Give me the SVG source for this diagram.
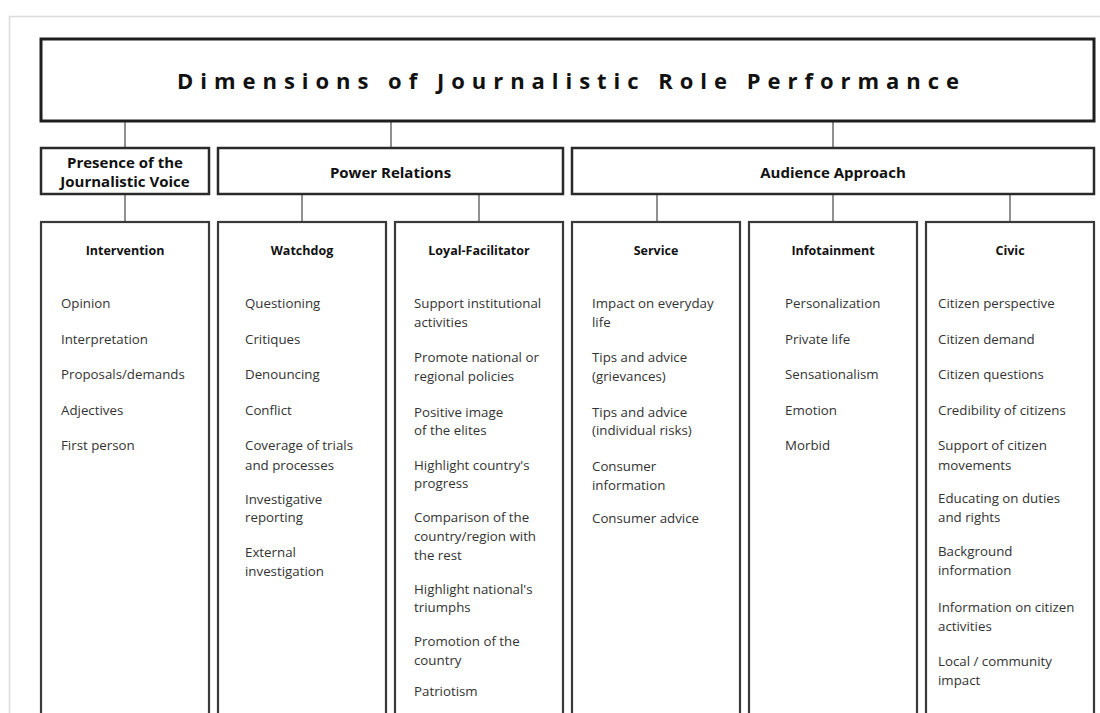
<svg xmlns="http://www.w3.org/2000/svg" width="1100" height="713" viewBox="0 0 1100 713">
<style>
.frame{fill:none;stroke:#dcdcdc;stroke-width:1.5}
.title-box{fill:#fff;stroke:#1e1e1e;stroke-width:3}
.cat-box{fill:#fff;stroke:#2a2a2a;stroke-width:2.5}
.col-box{fill:#fff;stroke:#3a3a3a;stroke-width:2.2}
.conn line{stroke:#555;stroke-width:1.3}
.title{font-family:"Open Sans",sans-serif;font-weight:bold;font-size:22px;fill:#111}
.cat{font-family:"Open Sans",sans-serif;font-weight:bold;font-size:15px;fill:#111;text-anchor:middle}
.head{font-family:"Open Sans",sans-serif;font-weight:bold;font-size:12.5px;fill:#111;text-anchor:middle}
.item{font-family:"Open Sans",sans-serif;font-size:13.3px;fill:#333}
</style>
<rect width="1100" height="713" fill="#fff"/>
<path class="frame" d="M9.5,713 V16.5 H1100"/>

<g id="connectors" class="conn">
<line x1="125" y1="121" x2="125" y2="148"/>
<line x1="391" y1="121" x2="391" y2="148"/>
<line x1="833" y1="121" x2="833" y2="148"/>
<line x1="125" y1="194" x2="125" y2="222"/>
<line x1="302" y1="194" x2="302" y2="222"/>
<line x1="479" y1="194" x2="479" y2="222"/>
<line x1="657" y1="194" x2="657" y2="222"/>
<line x1="833" y1="194" x2="833" y2="222"/>
<line x1="1010" y1="194" x2="1010" y2="222"/>
</g>

<g id="title">
<rect class="title-box" x="41" y="39" width="1053" height="82"/>
<text class="title" x="177" y="89" textLength="782" lengthAdjust="spacing">Dimensions of Journalistic Role Performance</text>
</g>

<g id="presence">
<rect class="cat-box" x="41" y="148" width="168" height="46"/>
<text class="cat" x="125" y="168">Presence of the</text>
<text class="cat" x="125" y="187">Journalistic Voice</text>
</g>
<g id="power">
<rect class="cat-box" x="218" y="148" width="345" height="46"/>
<text class="cat" x="390.5" y="177.5">Power Relations</text>
</g>
<g id="audience">
<rect class="cat-box" x="572" y="148" width="522" height="46"/>
<text class="cat" x="833" y="177.5">Audience Approach</text>
</g>

<g id="intervention">
<rect class="col-box" x="41" y="222" width="168" height="500"/>
<text class="head" x="125" y="254.5">Intervention</text>
<text class="item" x="61" y="308">Opinion</text>
<text class="item" x="61" y="344">Interpretation</text>
<text class="item" x="61" y="378.5">Proposals/demands</text>
<text class="item" x="61" y="414.5">Adjectives</text>
<text class="item" x="61" y="450">First person</text>
</g>

<g id="watchdog">
<rect class="col-box" x="218" y="222" width="168" height="500"/>
<text class="head" x="302" y="254.5">Watchdog</text>
<text class="item" x="245" y="308">Questioning</text>
<text class="item" x="245" y="344">Critiques</text>
<text class="item" x="245" y="378.5">Denouncing</text>
<text class="item" x="245" y="414.5">Conflict</text>
<text class="item" x="245" y="450">Coverage of trials</text>
<text class="item" x="245" y="469.5">and processes</text>
<text class="item" x="245" y="503.5">Investigative</text>
<text class="item" x="245" y="522">reporting</text>
<text class="item" x="245" y="557">External</text>
<text class="item" x="245" y="576">investigation</text>
</g>

<g id="loyal-facilitator">
<rect class="col-box" x="395" y="222" width="168" height="500"/>
<text class="head" x="479" y="254.5">Loyal-Facilitator</text>
<text class="item" x="414" y="308">Support institutional</text>
<text class="item" x="414" y="327">activities</text>
<text class="item" x="414" y="362">Promote national or</text>
<text class="item" x="414" y="381">regional policies</text>
<text class="item" x="414" y="416.5">Positive image</text>
<text class="item" x="414" y="435">of the elites</text>
<text class="item" x="414" y="469.5">Highlight country's</text>
<text class="item" x="414" y="488">progress</text>
<text class="item" x="414" y="521.5">Comparison of the</text>
<text class="item" x="414" y="540.5">country/region with</text>
<text class="item" x="414" y="559.5">the rest</text>
<text class="item" x="414" y="593.5">Highlight national's</text>
<text class="item" x="414" y="612">triumphs</text>
<text class="item" x="414" y="646">Promotion of the</text>
<text class="item" x="414" y="665">country</text>
<text class="item" x="414" y="696">Patriotism</text>
</g>

<g id="service">
<rect class="col-box" x="572" y="222" width="168" height="500"/>
<text class="head" x="656" y="254.5">Service</text>
<text class="item" x="592" y="308">Impact on everyday</text>
<text class="item" x="592" y="327">life</text>
<text class="item" x="592" y="362">Tips and advice</text>
<text class="item" x="592" y="381">(grievances)</text>
<text class="item" x="592" y="416.5">Tips and advice</text>
<text class="item" x="592" y="435">(individual risks)</text>
<text class="item" x="592" y="471">Consumer</text>
<text class="item" x="592" y="490">information</text>
<text class="item" x="592" y="522.5">Consumer advice</text>
</g>

<g id="infotainment">
<rect class="col-box" x="749" y="222" width="168" height="500"/>
<text class="head" x="833" y="254.5">Infotainment</text>
<text class="item" x="785" y="308">Personalization</text>
<text class="item" x="785" y="344">Private life</text>
<text class="item" x="785" y="378.5">Sensationalism</text>
<text class="item" x="785" y="414.5">Emotion</text>
<text class="item" x="785" y="450">Morbid</text>
</g>

<g id="civic">
<rect class="col-box" x="926" y="222" width="168" height="500"/>
<text class="head" x="1010" y="254.5">Civic</text>
<text class="item" x="938" y="308">Citizen perspective</text>
<text class="item" x="938" y="344">Citizen demand</text>
<text class="item" x="938" y="378.5">Citizen questions</text>
<text class="item" x="938" y="414.5">Credibility of citizens</text>
<text class="item" x="938" y="450">Support of citizen</text>
<text class="item" x="938" y="469.5">movements</text>
<text class="item" x="938" y="502.5">Educating on duties</text>
<text class="item" x="938" y="521.5">and rights</text>
<text class="item" x="938" y="556">Background</text>
<text class="item" x="938" y="575">information</text>
<text class="item" x="938" y="611.5">Information on citizen</text>
<text class="item" x="938" y="630.5">activities</text>
<text class="item" x="938" y="665.5">Local / community</text>
<text class="item" x="938" y="684.5">impact</text>
</g>
</svg>
